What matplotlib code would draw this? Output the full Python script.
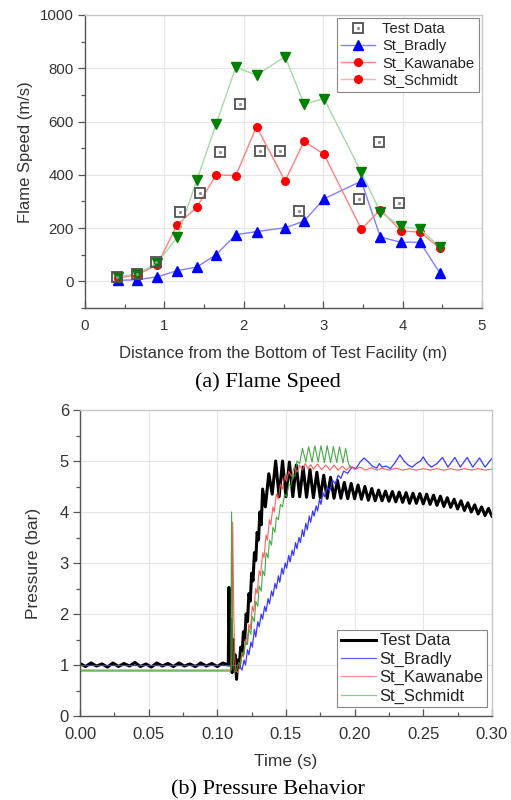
import matplotlib
matplotlib.use('Agg')
import matplotlib.pyplot as plt
from matplotlib.lines import Line2D
from matplotlib.legend_handler import HandlerTuple
from matplotlib.ticker import MultipleLocator, FormatStrFormatter

plt.rcParams['font.family'] = ['Liberation Sans', 'DejaVu Sans']

# (a) flame speed data
dist_test = [0.40, 0.65, 0.90, 1.20, 1.45, 1.70, 1.95, 2.20, 2.45, 2.70, 3.45, 3.70, 3.95]
speed_test = [16, 29, 72, 260, 330, 484, 664, 491, 491, 265, 310, 522, 294]

dist_sim = [0.41, 0.66, 0.91, 1.16, 1.41, 1.65, 1.90, 2.16, 2.52, 2.76, 3.01, 3.48, 3.72, 3.98, 4.22, 4.47]
speed_bradly = [4, 6, 17, 40, 54, 100, 175, 187, 201, 226, 310, 376, 166, 147, 147, 31]
speed_kawanabe = [12, 25, 62, 212, 279, 400, 397, 581, 377, 526, 477, 196, 269, 189, 185, 124]
speed_schmidt = [16, 29, 69, 165, 381, 589, 804, 774, 844, 665, 686, 409, 260, 206, 196, 129]

# (b) pressure traces
t_test = [0.000, 0.004, 0.008, 0.012, 0.016, 0.020, 0.024, 0.028, 0.032, 0.036,
          0.040, 0.044, 0.048, 0.052, 0.056, 0.060, 0.064, 0.068, 0.072, 0.076,
          0.080, 0.084, 0.088, 0.092, 0.096, 0.100, 0.104, 0.108,
          0.1085, 0.1092, 0.1100, 0.1108, 0.1115, 0.1122, 0.1130, 0.1140, 0.1150,
          0.1160, 0.1170, 0.1180, 0.1190, 0.1200, 0.1210, 0.1220, 0.1230, 0.1240,
          0.1250, 0.1260, 0.1270, 0.1280, 0.1290, 0.1300, 0.1310, 0.1320, 0.1330,
          0.1350, 0.1375, 0.1400, 0.1425, 0.1450, 0.1475, 0.1500, 0.1525, 0.1550,
          0.1575, 0.1600, 0.1625, 0.1650, 0.1675, 0.1700, 0.1725, 0.1750, 0.1775,
          0.1800, 0.1825, 0.1850, 0.1875, 0.1900, 0.1925, 0.1950, 0.1975, 0.2000,
          0.2025, 0.2050, 0.2075, 0.2100, 0.2125, 0.2150, 0.2175, 0.2200, 0.2225,
          0.2250, 0.2275, 0.2300, 0.2325, 0.2350, 0.2375, 0.2400, 0.2425, 0.2450,
          0.2475, 0.2500, 0.2525, 0.2550, 0.2575, 0.2600, 0.2625, 0.2650, 0.2675,
          0.2700, 0.2725, 0.2750, 0.2775, 0.2800, 0.2825, 0.2850, 0.2875, 0.2900,
          0.2925, 0.2950, 0.2975, 0.3000]
p_test = [1.03, 0.97, 1.04, 0.98, 1.02, 0.96, 1.04, 0.97, 1.03, 0.98,
          1.05, 0.97, 1.02, 0.96, 1.04, 0.98, 1.03, 0.97, 1.04, 0.98,
          1.02, 0.97, 1.04, 0.98, 1.03, 0.97, 1.04, 1.00,
          2.52, 1.00, 1.90, 0.85, 1.50, 0.90, 1.20, 0.72, 1.10,
          0.95, 1.35, 1.20, 1.65, 1.50, 2.00, 1.85, 2.40, 2.25,
          2.80, 2.65, 3.20, 3.05, 3.60, 3.45, 4.00, 3.75, 4.45,
          4.10, 4.75, 4.35, 5.00, 4.30, 5.00, 4.30, 4.98, 4.30,
          4.92, 4.30, 4.88, 4.29, 4.83, 4.28, 4.78, 4.28, 4.72,
          4.27, 4.68, 4.27, 4.62, 4.27, 4.58, 4.26, 4.56, 4.26,
          4.53, 4.25, 4.50, 4.23, 4.46, 4.22, 4.43, 4.22, 4.41,
          4.21, 4.40, 4.20, 4.39, 4.19, 4.38, 4.17, 4.37, 4.17,
          4.36, 4.16, 4.35, 4.15, 4.33, 4.13, 4.31, 4.11, 4.28,
          4.09, 4.25, 4.06, 4.22, 4.03, 4.18, 4.00, 4.14, 3.96,
          4.10, 3.93, 4.07, 3.92]

t_bradly = [0.000, 0.1140, 0.1160, 0.1180, 0.1195, 0.1205, 0.1220, 0.1230, 0.1245, 0.1255,
            0.1270, 0.1280, 0.1295, 0.1305, 0.1320, 0.1330, 0.1345, 0.1355, 0.1370, 0.1380,
            0.1395, 0.1405, 0.1420, 0.1430, 0.1445, 0.1455, 0.1470, 0.1480, 0.1495, 0.1505,
            0.1520, 0.1530, 0.1545, 0.1555, 0.1570, 0.1580, 0.1595, 0.1605, 0.1620, 0.1630,
            0.1645, 0.1655, 0.1670, 0.1680, 0.1695, 0.1705, 0.1720, 0.1730, 0.1745, 0.1755,
            0.1770, 0.1780, 0.1800, 0.1820, 0.1840, 0.1860, 0.1880, 0.1900, 0.1920, 0.1950,
            0.1980, 0.2010, 0.2040, 0.2070, 0.2100, 0.2130, 0.2160, 0.2180, 0.2200, 0.2230,
            0.2260, 0.2290, 0.2330, 0.2360, 0.2390, 0.2420, 0.2450, 0.2480, 0.2500, 0.2530,
            0.2560, 0.2600, 0.2640, 0.2680, 0.2730, 0.2770, 0.2820, 0.2860, 0.2910, 0.2950,
            0.3000]
p_bradly = [0.99, 0.99, 1.00, 0.90, 1.10, 1.00, 1.30, 1.20, 1.45, 1.35,
            1.70, 1.55, 1.85, 1.75, 2.00, 1.90, 2.15, 2.05, 2.30, 2.20,
            2.45, 2.35, 2.60, 2.50, 2.75, 2.62, 2.90, 2.78, 3.00, 2.90,
            3.15, 3.02, 3.25, 3.15, 3.40, 3.28, 3.50, 3.40, 3.65, 3.52,
            3.78, 3.65, 3.92, 3.80, 4.02, 3.92, 4.12, 4.02, 4.25, 4.15,
            4.38, 4.30, 4.48, 4.42, 4.62, 4.55, 4.72, 4.66, 4.80, 4.76,
            4.88, 4.85, 4.98, 5.06, 4.98, 4.90, 4.86, 4.95, 4.88, 4.90,
            4.85, 4.95, 5.12, 5.00, 4.92, 4.88, 4.95, 5.00, 5.08, 4.95,
            4.88, 4.95, 5.07, 4.88, 5.07, 4.88, 5.07, 4.88, 5.06, 4.88,
            5.05]

t_kawanabe = [0.000, 0.1095, 0.1105, 0.1112, 0.1120, 0.1128, 0.1135, 0.1150, 0.1165, 0.1180,
              0.1190, 0.1205, 0.1215, 0.1230, 0.1240, 0.1255, 0.1265, 0.1280, 0.1290, 0.1305,
              0.1315, 0.1330, 0.1340, 0.1355, 0.1365, 0.1380, 0.1390, 0.1405, 0.1415, 0.1430,
              0.1445, 0.1460, 0.1475, 0.1490, 0.1505, 0.1520, 0.1540, 0.1560, 0.1580, 0.1600,
              0.1620, 0.1640, 0.1660, 0.1680, 0.1700, 0.1730, 0.1760, 0.1790, 0.1820, 0.1850,
              0.1880, 0.1910, 0.1940, 0.1970, 0.2000, 0.2040, 0.2080, 0.2120, 0.2160, 0.2200,
              0.2250, 0.2300, 0.2350, 0.2400, 0.2450, 0.2500, 0.2550, 0.2600, 0.2650, 0.2700,
              0.2750, 0.2800, 0.2850, 0.2900, 0.2950, 0.3000]
p_kawanabe = [0.88, 0.88, 0.92, 3.80, 2.00, 1.10, 0.90, 0.85, 1.00, 1.25,
              1.15, 1.50, 1.40, 1.80, 1.70, 2.15, 2.05, 2.50, 2.40, 2.85,
              2.75, 3.20, 3.10, 3.55, 3.45, 3.85, 3.75, 4.10, 4.00, 4.35,
              4.25, 4.55, 4.45, 4.70, 4.60, 4.80, 4.70, 4.88, 4.78, 4.92,
              4.82, 4.95, 4.85, 4.93, 4.84, 4.94, 4.83, 4.92, 4.82, 4.92,
              4.82, 4.90, 4.82, 4.90, 4.83, 4.88, 4.82, 4.87, 4.82, 4.86,
              4.82, 4.86, 4.82, 4.85, 4.82, 4.85, 4.82, 4.85, 4.82, 4.85,
              4.82, 4.85, 4.82, 4.85, 4.82, 4.84]

t_schmidt = [0.000, 0.1098, 0.1104, 0.1110, 0.1118, 0.1125, 0.1140, 0.1155, 0.1170, 0.1180,
             0.1195, 0.1205, 0.1220, 0.1230, 0.1245, 0.1255, 0.1270, 0.1280, 0.1295, 0.1305,
             0.1320, 0.1330, 0.1345, 0.1355, 0.1370, 0.1380, 0.1395, 0.1405, 0.1420, 0.1430,
             0.1445, 0.1460, 0.1475, 0.1490, 0.1505, 0.1520, 0.1535, 0.1550, 0.1565, 0.1580,
             0.1600, 0.1620, 0.1645, 0.1665, 0.1690, 0.1710, 0.1735, 0.1755, 0.1780, 0.1800,
             0.1825, 0.1845, 0.1870, 0.1890, 0.1915, 0.1935, 0.1955, 0.1970]
p_schmidt = [0.90, 0.90, 4.00, 1.80, 1.00, 0.85, 0.90, 1.05, 1.00, 1.25,
             1.20, 1.45, 1.40, 1.70, 1.60, 1.95, 1.85, 2.25, 2.15, 2.55,
             2.45, 2.85, 2.75, 3.20, 3.10, 3.45, 3.35, 3.70, 3.60, 3.90,
             3.85, 4.15, 4.10, 4.35, 4.30, 4.55, 4.50, 4.75, 4.70, 5.00,
             4.95, 5.25, 4.98, 5.28, 4.98, 5.30, 4.98, 5.30, 4.97, 5.30,
             4.97, 5.28, 4.97, 5.28, 4.96, 5.25, 4.95, 4.88]

labels = ['Test Data', 'St_Bradly', 'St_Kawanabe', 'St_Schmidt']

AX_DARK = '#555555'
AX_LIGHT = '#c8c8c8'
TXT = '#333333'


def style_axes(ax, fs):
    for s in ['left', 'bottom']:
        ax.spines[s].set_color(AX_DARK)
        ax.spines[s].set_linewidth(1.0)
    for s in ['top', 'right']:
        ax.spines[s].set_color(AX_LIGHT)
        ax.spines[s].set_linewidth(1.0)
    ax.grid(True, which='major', color='#e6e6e6', linewidth=0.8)
    ax.set_axisbelow(True)
    ax.tick_params(axis='both', which='both', color=AX_DARK, width=0.9,
                   labelsize=fs, labelcolor=TXT)
    ax.tick_params(axis='y', which='major', direction='out', length=5, pad=3)
    ax.tick_params(axis='y', which='minor', direction='out', length=3)
    ax.tick_params(axis='x', which='major', direction='in', length=5, pad=8)
    ax.tick_params(axis='x', which='minor', direction='in', length=3)


fig = plt.figure(figsize=(5.11, 8.0), dpi=100)

# (a) Flame Speed
ax1 = fig.add_axes([0.1663, 0.615, 0.777, 0.3663])
ax1.plot(dist_sim, speed_bradly, color='#8080ff', lw=1.0, marker='^', ms=6.5,
         mfc='#0000ff', mec='#0000ff')
ax1.plot(dist_sim, speed_kawanabe, color='#ff8080', lw=1.0, marker='o', ms=5.5,
         mfc='#ff0000', mec='#ff0000')
ax1.plot(dist_sim, speed_schmidt, color='#a8d8a8', lw=1.0, marker='v', ms=6.5,
         mfc='#008000', mec='#008000')
ax1.plot(dist_test, speed_test, ls='none', marker='s', ms=7.5, mfc='none',
         mec='#505050', mew=1.3, zorder=5)
ax1.plot(dist_test, speed_test, ls='none', marker='o', ms=1.3, color='#909090', zorder=5)

ax1.set_xlim(0, 5)
ax1.set_ylim(-100, 1000)
ax1.xaxis.set_major_locator(MultipleLocator(1))
ax1.xaxis.set_minor_locator(MultipleLocator(0.5))
ax1.yaxis.set_major_locator(MultipleLocator(200))
ax1.yaxis.set_minor_locator(MultipleLocator(100))
style_axes(ax1, 10.8)
ax1.set_xlabel('Distance from the Bottom of Test Facility (m)', fontsize=12, color=TXT)
ax1.set_ylabel('Flame Speed (m/s)', fontsize=12, color=TXT)
ax1.xaxis.set_label_coords(0.5, -0.154)
ax1.xaxis.label.set_va('center')
ax1.yaxis.set_label_coords(-0.151, 0.532)
ax1.yaxis.label.set_va('center')

h_test = (Line2D([], [], ls='none', marker='s', ms=7.5, mfc='none', mec='#505050', mew=1.3),
          Line2D([], [], ls='none', marker='o', ms=1.3, color='#909090'))
h_brad = Line2D([], [], color='#8080ff', lw=1.0, marker='^', ms=6.5, mfc='#0000ff', mec='#0000ff')
h_kaw = Line2D([], [], color='#ff8080', lw=1.0, marker='o', ms=5.5, mfc='#ff0000', mec='#ff0000')
h_sch = Line2D([], [], color='#ffb0b0', lw=1.0, marker='o', ms=5.5, mfc='#ff0000', mec='#ff0000')
leg1 = ax1.legend([h_test, h_brad, h_kaw, h_sch], labels, loc='upper right',
                  bbox_to_anchor=(0.992, 0.99), borderaxespad=0, fontsize=10.6,
                  handlelength=2.3, labelspacing=0.2, handletextpad=0.5,
                  borderpad=0.3, fancybox=False, framealpha=1,
                  handler_map={tuple: HandlerTuple(ndivide=1)})
leg1.get_frame().set_edgecolor('#888888')
leg1.get_frame().set_linewidth(0.8)
for t in leg1.get_texts():
    t.set_color('#222222')

# (b) Pressure Behavior
ax2 = fig.add_axes([0.1566, 0.105, 0.806, 0.3825])
ax2.plot(t_test, p_test, color='black', lw=2.2)
ax2.plot(t_bradly, p_bradly, color='#3a3aff', lw=0.9)
ax2.plot(t_kawanabe, p_kawanabe, color='#ff5050', lw=0.8, alpha=0.9)
ax2.plot(t_schmidt, p_schmidt, color='#33a033', lw=0.8, alpha=0.9)

ax2.set_xlim(0, 0.3)
ax2.set_ylim(0, 6)
ax2.xaxis.set_major_locator(MultipleLocator(0.05))
ax2.xaxis.set_minor_locator(MultipleLocator(0.025))
ax2.xaxis.set_major_formatter(FormatStrFormatter('%.2f'))
ax2.yaxis.set_major_locator(MultipleLocator(1))
ax2.yaxis.set_minor_locator(MultipleLocator(0.5))
style_axes(ax2, 12)
ax2.set_xlabel('Time (s)', fontsize=12.5, color=TXT)
ax2.set_ylabel('Pressure (bar)', fontsize=12.5, color=TXT)
ax2.xaxis.set_label_coords(0.5, -0.150)
ax2.xaxis.label.set_va('center')
ax2.yaxis.set_label_coords(-0.114, 0.5)
ax2.yaxis.label.set_va('center')

h2 = [Line2D([], [], color='black', lw=2.2),
      Line2D([], [], color='#6060ff', lw=0.9),
      Line2D([], [], color='#ff9090', lw=0.9),
      Line2D([], [], color='#90c890', lw=0.9)]
leg2 = ax2.legend(h2, labels, loc='lower right', bbox_to_anchor=(0.988, 0.029),
                  borderaxespad=0, fontsize=12, handlelength=2.1,
                  labelspacing=0.2, handletextpad=0.25, borderpad=0.2,
                  fancybox=False, framealpha=1)
leg2.get_frame().set_edgecolor('#888888')
leg2.get_frame().set_linewidth(0.8)
for t in leg2.get_texts():
    t.set_color('#222222')

fig.text(268 / 511, 1 - 382 / 800, '(a) Flame Speed', family=['Liberation Serif'],
         fontsize=16, ha='center', va='center')
fig.text(268 / 511, 1 - 790 / 800, '(b) Pressure Behavior', family=['Liberation Serif'],
         fontsize=16, ha='center', va='center')

fig.savefig('out.png', dpi=100)
